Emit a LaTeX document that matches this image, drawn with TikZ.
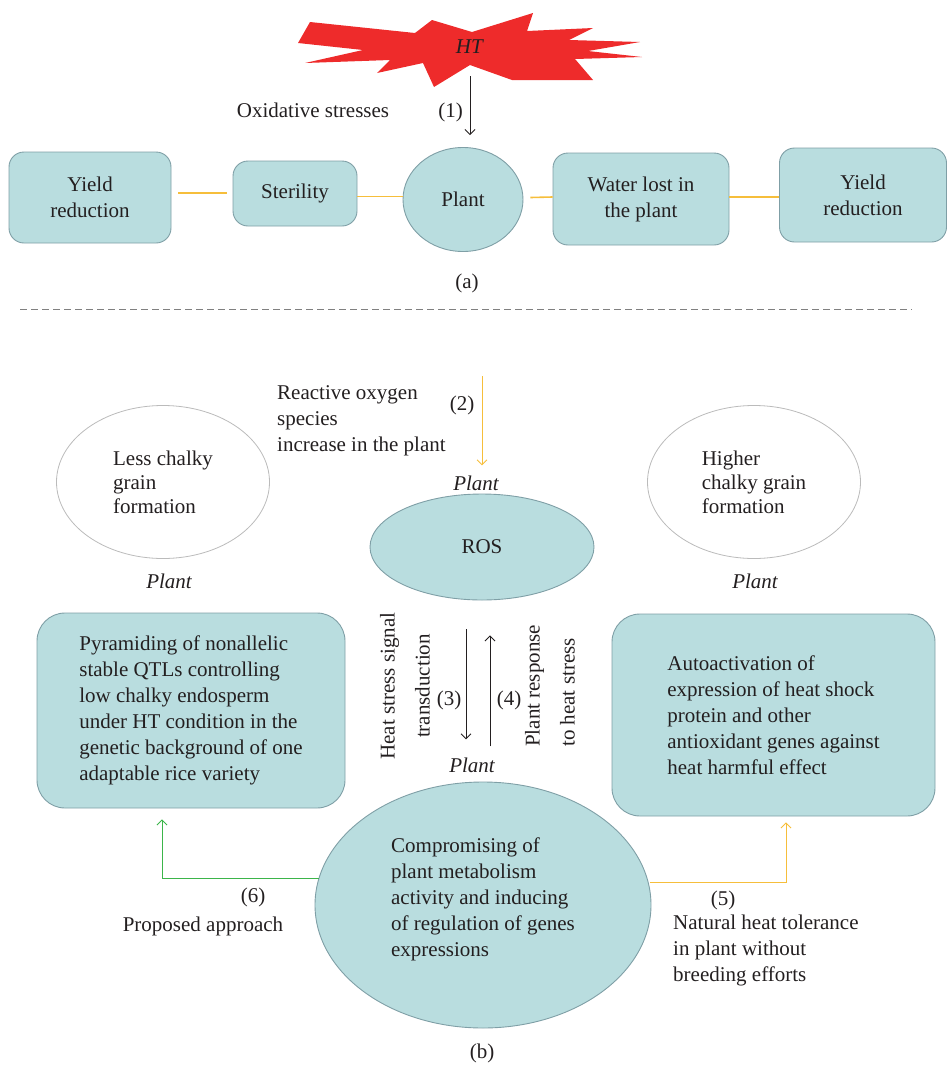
\documentclass[tikz,border=0pt]{standalone}
\usepackage{fontspec}
\setmainfont{Liberation Serif}
\usetikzlibrary{arrows.meta,shapes.geometric,calc}
\definecolor{boxfill}{HTML}{B9DDDF}
\definecolor{boxdraw}{HTML}{7F9FA6}
\definecolor{oline}{HTML}{F6BE3B}
\definecolor{gline}{HTML}{3BB54A}
\definecolor{htred}{HTML}{EE2B2B}
\definecolor{txt}{HTML}{231F20}
\definecolor{ellgray}{HTML}{BBBBBB}
\begin{document}
\begin{tikzpicture}[x=1pt,y=-1pt,
  font=\fontsize{21}{26}\selectfont, text=txt,
  box/.style={draw=boxdraw, line width=0.9pt, fill=boxfill, rounded corners=15pt, inner sep=0pt},
  bigbox/.style={box, rounded corners=28pt, align=left},
  ell/.style={ellipse, draw=boxdraw, line width=0.9pt, fill=boxfill, inner sep=0pt},
  wellipse/.style={ellipse, draw=ellgray, line width=0.8pt, fill=white, inner sep=0pt, align=left, font=\fontsize{21}{24}\selectfont},
  arr/.style={-{Straight Barb[length=5pt,width=10pt]}, line width=0.9pt},
  oconn/.style={draw=oline, line width=1.6pt},
  lbl/.style={inner sep=0pt},
  it/.style={inner sep=0pt, font=\fontsize{21}{26}\selectfont\itshape}]
\useasboundingbox (0,0) rectangle (947,1066);

% ---------- (a) ----------
\fill[htred] (298,43) -- (310,22) -- (415,33) -- (432,20) -- (472,32) -- (533,13) -- (527,31)
  -- (593,28) -- (569,40) -- (640,42) -- (588,51) -- (642,57) -- (575,59) -- (593,80)
  -- (512,80) -- (470,65) -- (434,87) -- (423,63) -- (377,73) -- (390,60) -- (305,63)
  -- (363,50) -- cycle;
\node[minimum height=58pt, inner sep=0pt] (ht) at (470,47) {\textit{HT}};

\node[box, minimum width=162pt, minimum height=91pt, align=center] (yl) at (90,197.5) {Yield\\reduction};
\node[box, minimum width=124pt, minimum height=65pt] (ster) at (295,193.5) {Sterility};
\node[ell, minimum width=120pt, minimum height=104pt] (plant) at (463,199.5) {Plant};
\node[box, minimum width=176pt, minimum height=92pt, align=center] (water) at (641,199) {Water lost in\\the plant};
\node[box, minimum width=167pt, minimum height=94pt, align=center] (yr) at (863,195) {Yield\\reduction};

\draw[oconn] ([xshift=7pt,yshift=0.5pt]yl.east |- ster.west) -- ([xshift=-6pt,yshift=0.5pt]ster.west);
\draw[oconn] ([yshift=-3pt]ster.east) -- ([yshift=-3pt]ster.east -| plant.west);
\draw[oconn] ([xshift=7pt,yshift=2pt]plant.east) -- ([yshift=2pt]water.west);
\draw[oconn] ([yshift=2pt]water.east) -- ([yshift=2pt]water.east -| yr.west);

\coordinate (pn) at ([yshift=12pt]plant.north);
\draw[arr, txt] (ht.south) -- (ht.south |- pn);
\node[lbl, anchor=east] (l1) at (463,112) {(1)};
\node[lbl] (ox) at (313,110) {Oxidative stresses};
\node[lbl] (la) at (467,283) {(a)};

\draw[gray, line width=0.8pt, dash pattern=on 7pt off 4pt] (20,309) -- (912,309);

% ---------- (b) ----------
\coordinate (r0) at (482,376);
\node[it] (p1) at (476,483) {Plant};
\draw[arr, oline] (r0) -- ([yshift=10pt]p1.north -| r0);
\node[lbl] (l2) at (462,405) {(2)};
\node[lbl, anchor=west, align=left] (ros-t) at (277,421) {Reactive oxygen\\species\\increase in the plant};

\node[ell, minimum width=224pt, minimum height=106pt] (ros) at (482,547) {ROS};

\node[wellipse, minimum width=213pt, minimum height=153pt] (less) at (163,482) {Less chalky\\grain\\formation};
\node[wellipse, minimum width=213pt, minimum height=153pt] (high) at (754,482) {Higher\\chalky grain\\formation};
\node[it] (pl) at (169,581) {Plant};
\node[it] (pr) at (755,581) {Plant};

\node[bigbox, minimum width=308pt, minimum height=195pt] (lbox) at (191,710.5)
  {Pyramiding of nonallelic\\stable QTLs controlling\\low chalky endosperm\\under HT condition in the\\genetic background of one\\adaptable rice variety};
\node[bigbox, minimum width=323pt, minimum height=202pt] (rbox) at (773.5,715)
  {Autoactivation of\\expression of heat shock\\protein and other\\antioxidant genes against\\heat harmful effect};

\node[it] (p2) at (472,765) {Plant};
\draw[arr, txt] ([xshift=-16pt,yshift=-29pt]ros.south) -- ([xshift=-6pt,yshift=18pt]p2.north);
\draw[arr, txt] ([xshift=18pt,yshift=11pt]p2.north) -- ([xshift=8pt,yshift=-35pt]ros.south);
\node[lbl] (l3) at (449,700) {(3)};
\node[lbl] (l4) at (509,700) {(4)};
\node[lbl, rotate=90, align=center] (hs) at (405,686) {Heat stress signal\\[9pt]transduction};
\node[lbl, rotate=90, align=left, anchor=west] (pres) at (550,747) {Plant response\\[9pt]to heat stress};

\node[ell, minimum width=336pt, minimum height=246pt] (bot) at (483,905) {};
\node[lbl, align=left] (bot-t) at (483,899)
  {Compromising of\\plant metabolism\\activity and inducing\\of regulation of genes\\expressions};

\draw[arr, gline] ($(bot.west)+(4,-27)$) -| ([xshift=-29pt,yshift=-11pt]lbox.south);
\draw[arr, oline] ($(bot.east)+(-1,-23)$) -| ([xshift=12.5pt,yshift=-6pt]rbox.south);

\node[lbl] (l6) at (253,897) {(6)};
\node[lbl] (prop) at (203,926) {Proposed approach};
\node[lbl] (l5) at (723,900) {(5)};
\node[lbl, anchor=west, align=left] (nat) at (673,950) {Natural heat tolerance\\in plant without\\breeding efforts};
\node[lbl] (lb) at (482,1053) {(b)};
\end{tikzpicture}
\end{document}
